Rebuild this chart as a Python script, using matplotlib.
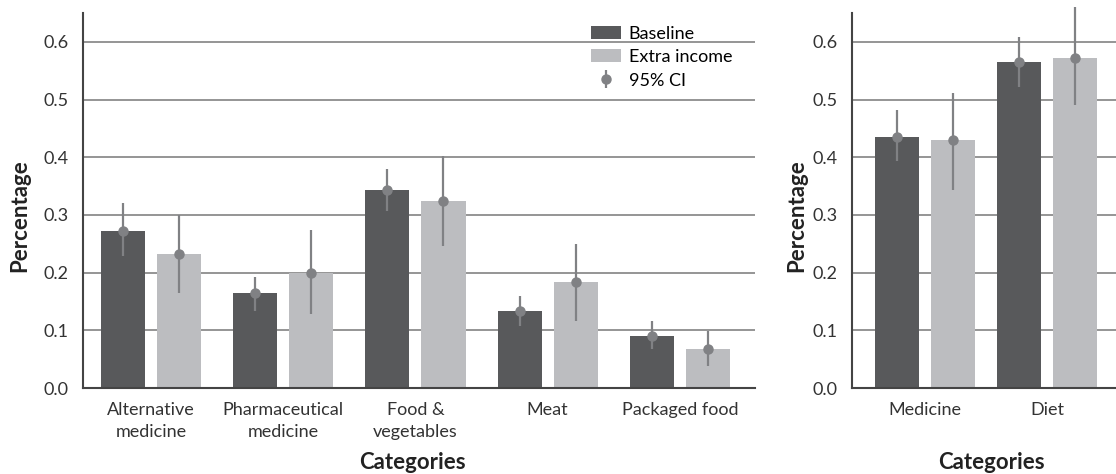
import numpy as np
import matplotlib
matplotlib.use('Agg')
import matplotlib.pyplot as plt

plt.rcParams['font.family'] = ['Lato', 'DejaVu Sans']

# left panel: spending categories
cats_left = ['Alternative\nmedicine', 'Pharmaceutical\nmedicine', 'Food &\nvegetables', 'Meat', 'Packaged food']
base_left = [0.272, 0.165, 0.343, 0.133, 0.091]
base_left_lo = [0.229, 0.134, 0.306, 0.107, 0.068]
base_left_hi = [0.321, 0.192, 0.379, 0.159, 0.116]
extra_left = [0.232, 0.200, 0.324, 0.184, 0.068]
extra_left_lo = [0.165, 0.128, 0.247, 0.116, 0.038]
extra_left_hi = [0.300, 0.274, 0.403, 0.249, 0.099]

# right panel: aggregated
cats_right = ['Medicine', 'Diet']
base_right = [0.435, 0.565]
base_right_lo = [0.393, 0.522]
base_right_hi = [0.482, 0.609]
extra_right = [0.430, 0.572]
extra_right_lo = [0.344, 0.490]
extra_right_hi = [0.512, 0.660]

dark = '#58595b'
light = '#bcbdc0'
ci_col = '#808184'


def draw(ax, cats, base, blo, bhi, extra, elo, ehi, width, off, legend=False):
    x = np.arange(len(cats))
    ax.bar(x - off, base, width, color=dark, label='Baseline', zorder=2)
    ax.bar(x + off, extra, width, color=light, label='Extra income', zorder=2)
    for pos, v, lo, hi, lab in [(x - off, base, blo, bhi, '95% CI'), (x + off, extra, elo, ehi, None)]:
        v = np.array(v)
        err = [v - np.array(lo), np.array(hi) - v]
        eb = ax.errorbar(pos, v, yerr=err, fmt='o', color=ci_col, ms=6.5, elinewidth=1.6,
                         capsize=0, zorder=3, label=lab)
        for art in eb.lines[2]:
            art.set_clip_on(False)
        eb.lines[0].set_clip_on(False)
    ax.set_xticks(x)
    ax.set_xticklabels(cats, fontsize=13, color='#333333', linespacing=1.45)
    ax.set_ylim(0, 0.65)
    ax.set_yticks([0.0, 0.1, 0.2, 0.3, 0.4, 0.5, 0.6])
    ax.set_yticklabels(['0.0', '0.1', '0.2', '0.3', '0.4', '0.5', '0.6'], fontsize=13, color='#333333')
    ax.tick_params(length=0, pad=10)
    ax.yaxis.grid(True, color='#8c8c8c', linewidth=1.3, zorder=0)
    ax.set_axisbelow(True)
    for s in ['top', 'right']:
        ax.spines[s].set_visible(False)
    for s in ['left', 'bottom']:
        ax.spines[s].set_color('#444444')
        ax.spines[s].set_linewidth(1.5)
    ax.set_xlabel('Categories', fontsize=16, fontweight='bold', color='#222222')
    ax.set_ylabel('Percentage', fontsize=16, fontweight='bold', color='#222222')
    if legend:
        ax.legend(loc='upper right', frameon=False, fontsize=13, handlelength=1.7,
                  handleheight=0.75, handletextpad=0.4, labelspacing=0.42,
                  bbox_to_anchor=(0.99, 1.01))


fig = plt.figure(figsize=(11.16, 4.74), dpi=100)
ax1 = fig.add_axes([0.0741, 0.1814, 0.6024, 0.7911])
ax2 = fig.add_axes([0.7632, 0.1814, 0.2410, 0.7911])

draw(ax1, cats_left, base_left, base_left_lo, base_left_hi,
     extra_left, extra_left_lo, extra_left_hi, 0.333, 0.212, legend=True)
ax1.set_xlim(-0.517, 4.568)
ax1.yaxis.set_label_coords(-0.078, 0.46)
ax1.xaxis.set_label_coords(0.49, -0.17)

draw(ax2, cats_right, base_right, base_right_lo, base_right_hi,
     extra_right, extra_right_lo, extra_right_hi, 0.36, 0.23)
ax2.set_xlim(-0.6, 1.6)
ax2.yaxis.set_label_coords(-0.165, 0.46)
ax2.xaxis.set_label_coords(0.52, -0.17)

fig.savefig('out.png', dpi=100)
